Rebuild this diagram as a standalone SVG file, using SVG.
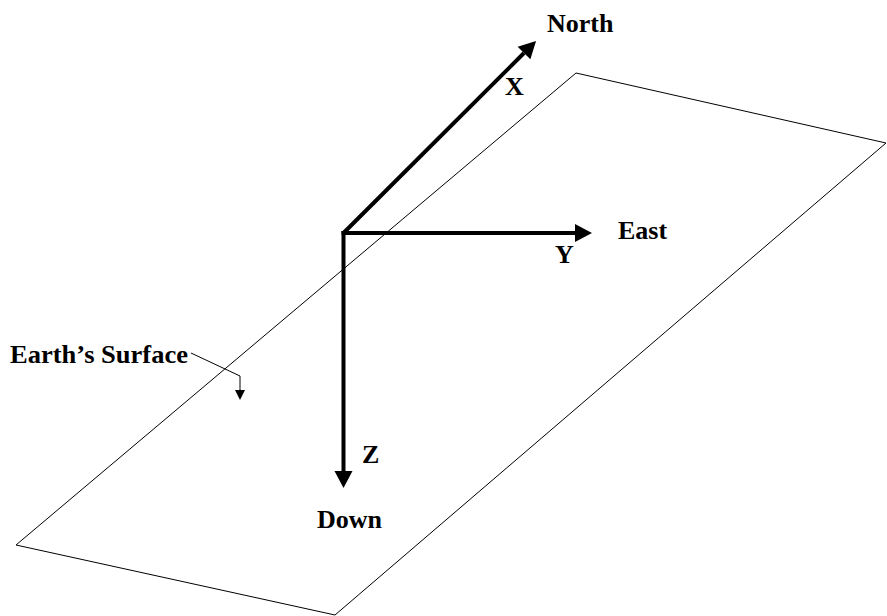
<svg xmlns="http://www.w3.org/2000/svg" width="887" height="616" viewBox="0 0 887 616">
  <style>
    .lbl { font-family: "Liberation Serif", "Times New Roman", serif; font-weight: bold; font-size: 26px; fill: #000; }
    .axis { stroke: #000; stroke-width: 4; fill: none; }
    .thin { stroke: #000; stroke-width: 1; fill: none; }
  </style>
  <defs>
    <marker id="bigArrow" markerUnits="userSpaceOnUse" markerWidth="20" markerHeight="20" viewBox="0 -10 18 20" refX="0" refY="0" orient="auto">
      <path d="M0,-9 L17,0 L0,9 z" fill="#000"/>
    </marker>
    <marker id="smallArrow" markerUnits="userSpaceOnUse" markerWidth="12" markerHeight="12" viewBox="0 -6 11 12" refX="0" refY="0" orient="auto">
      <path d="M0,-5 L10,0 L0,5 z" fill="#000"/>
    </marker>
  </defs>

  <g id="surface">
    <polygon class="thin" points="576,73 886,143 335,615 16,545"/>
  </g>

  <g id="connectors">
    <path id="axis-x" class="axis" d="M343.5,233 L524,53" marker-end="url(#bigArrow)"/>
    <path id="axis-y" class="axis" d="M341.5,233 L575,233" marker-end="url(#bigArrow)"/>
    <path id="axis-z" class="axis" d="M343.5,231 L343.5,471" marker-end="url(#bigArrow)"/>
    <path id="surface-callout" class="thin" d="M191,353 L240,376 L240,390" marker-end="url(#smallArrow)"/>
  </g>

  <g id="north"><text class="lbl" x="547" y="32">North</text></g>
  <g id="x-label"><text class="lbl" x="505" y="95">X</text></g>
  <g id="east"><text class="lbl" x="618" y="239">East</text></g>
  <g id="y-label"><text class="lbl" x="555" y="263">Y</text></g>
  <g id="z-label"><text class="lbl" x="362" y="463">Z</text></g>
  <g id="down"><text class="lbl" x="317" y="528">Down</text></g>
  <g id="earth-surface"><text class="lbl" x="10" y="363" textLength="178" lengthAdjust="spacingAndGlyphs">Earth’s Surface</text></g>
</svg>
